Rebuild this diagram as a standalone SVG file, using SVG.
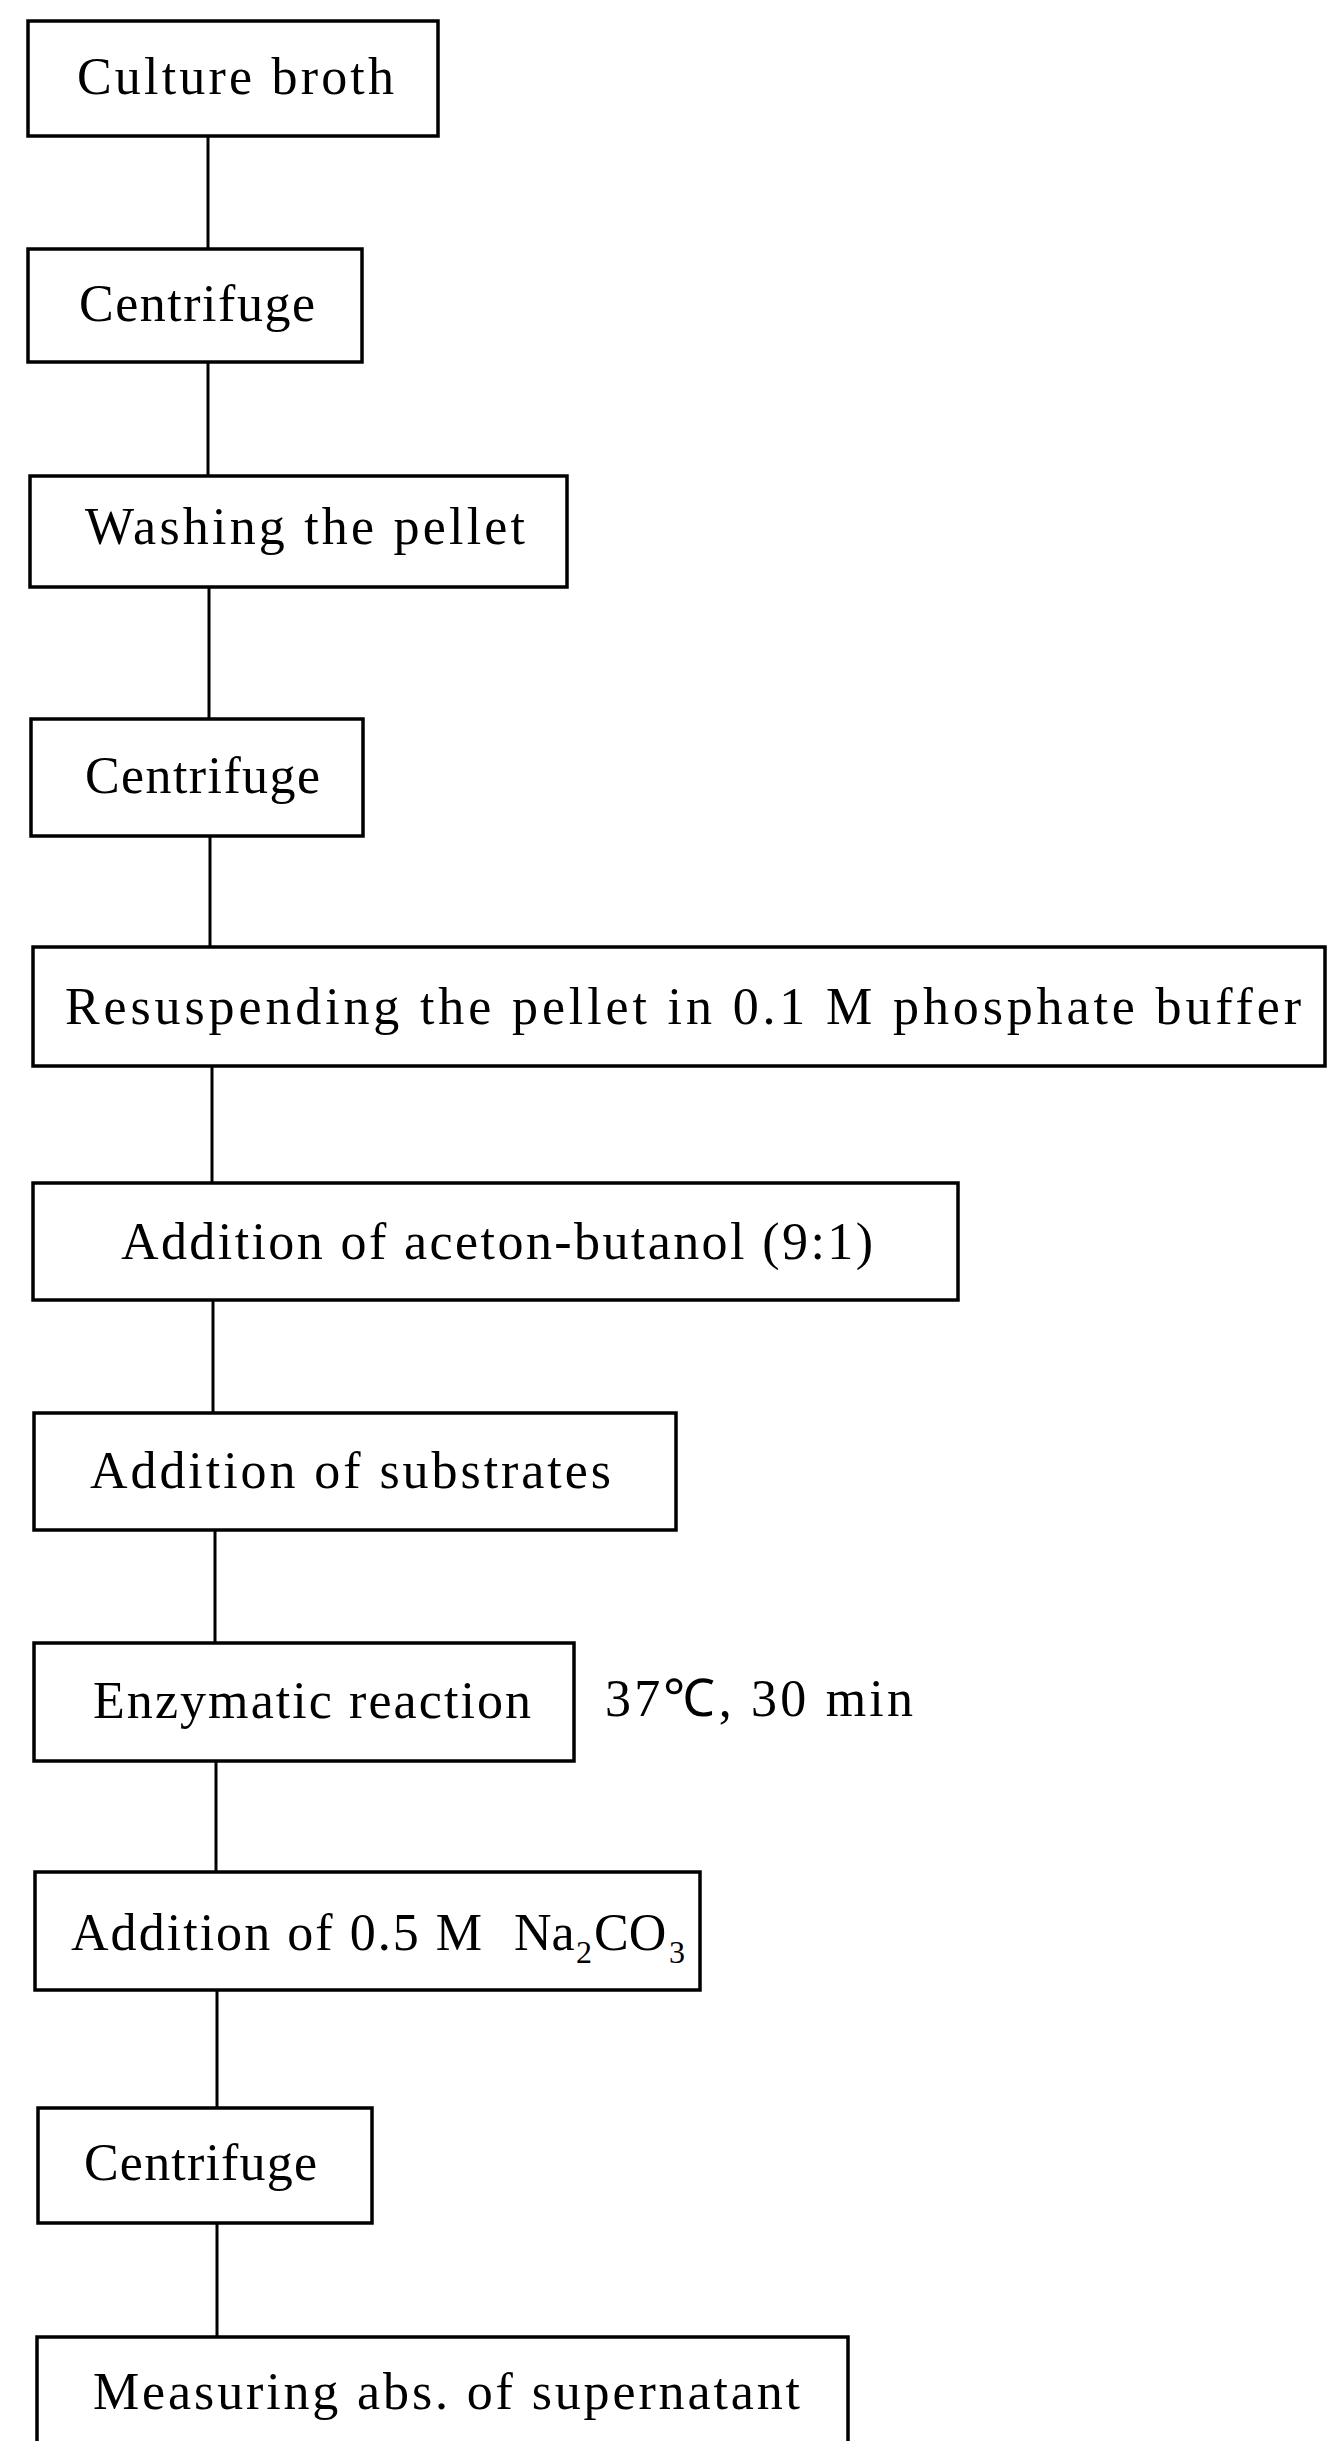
<svg xmlns="http://www.w3.org/2000/svg" width="1340" height="2441" viewBox="0 0 1340 2441">
<style>
.box{fill:#fff;stroke:#000;stroke-width:3.5}
.lbl{font-family:"Liberation Serif","Times New Roman",serif;font-size:52px;fill:#000}
.sub{font-family:"Liberation Serif","Times New Roman",serif;font-size:32px;fill:#000}
.con{stroke:#000;stroke-width:3;fill:none}
</style>
<rect width="1340" height="2441" fill="#fff"/>
<g id="connectors">
<line class="con" x1="208" y1="136" x2="208" y2="249"/>
<line class="con" x1="208" y1="362" x2="208" y2="476"/>
<line class="con" x1="209" y1="587" x2="209" y2="719"/>
<line class="con" x1="210" y1="836" x2="210" y2="947"/>
<line class="con" x1="212" y1="1066" x2="212" y2="1183"/>
<line class="con" x1="213" y1="1300" x2="213" y2="1413"/>
<line class="con" x1="215" y1="1530" x2="215" y2="1643"/>
<line class="con" x1="216" y1="1761" x2="216" y2="1872"/>
<line class="con" x1="217" y1="1990" x2="217" y2="2108"/>
<line class="con" x1="217" y1="2223" x2="217" y2="2337"/>
</g>
<g id="n1"><rect class="box" x="28" y="21" width="410" height="115"/><text class="lbl" x="77" y="94" textLength="317" lengthAdjust="spacing">Culture broth</text></g>
<g id="n2"><rect class="box" x="28" y="249" width="334" height="113"/><text class="lbl" x="79" y="321" textLength="236" lengthAdjust="spacing">Centrifuge</text></g>
<g id="n3"><rect class="box" x="30" y="476" width="537" height="111"/><text class="lbl" x="85" y="544" textLength="440" lengthAdjust="spacing">Washing the pellet</text></g>
<g id="n4"><rect class="box" x="31" y="719" width="332" height="117"/><text class="lbl" x="85" y="793" textLength="235" lengthAdjust="spacing">Centrifuge</text></g>
<g id="n5"><rect class="box" x="33" y="947" width="1292" height="119"/><text class="lbl" x="65" y="1024" textLength="1236" lengthAdjust="spacing">Resuspending the pellet in 0.1 M phosphate buffer</text></g>
<g id="n6"><rect class="box" x="33" y="1183" width="925" height="117"/><text class="lbl" x="121" y="1259" textLength="752" lengthAdjust="spacing">Addition of aceton-butanol (9:1)</text></g>
<g id="n7"><rect class="box" x="34" y="1413" width="642" height="117"/><text class="lbl" x="90" y="1488" textLength="521" lengthAdjust="spacing">Addition of substrates</text></g>
<g id="n8"><rect class="box" x="34" y="1643" width="540" height="118"/><text class="lbl" x="93" y="1718" textLength="438" lengthAdjust="spacing">Enzymatic reaction</text></g>
<g id="t8"><text class="lbl" x="605" y="1716" textLength="308" lengthAdjust="spacing">37℃, 30 min</text></g>
<g id="n9"><rect class="box" x="35" y="1872" width="665" height="118"/>
<text class="lbl" x="71" y="1950" textLength="411" lengthAdjust="spacing">Addition of 0.5 M</text>
<text class="lbl" x="514" y="1950">Na</text>
<text class="sub" x="576" y="1963">2</text>
<text class="lbl" x="594" y="1950">CO</text>
<text class="sub" x="669" y="1963">3</text></g>
<g id="n10"><rect class="box" x="38" y="2108" width="334" height="115"/><text class="lbl" x="84" y="2180" textLength="233" lengthAdjust="spacing">Centrifuge</text></g>
<g id="n11"><path class="box" d="M37 2460 V2337 H848 V2460"/><text class="lbl" x="93" y="2409" textLength="707" lengthAdjust="spacing">Measuring abs. of supernatant</text></g>
</svg>
